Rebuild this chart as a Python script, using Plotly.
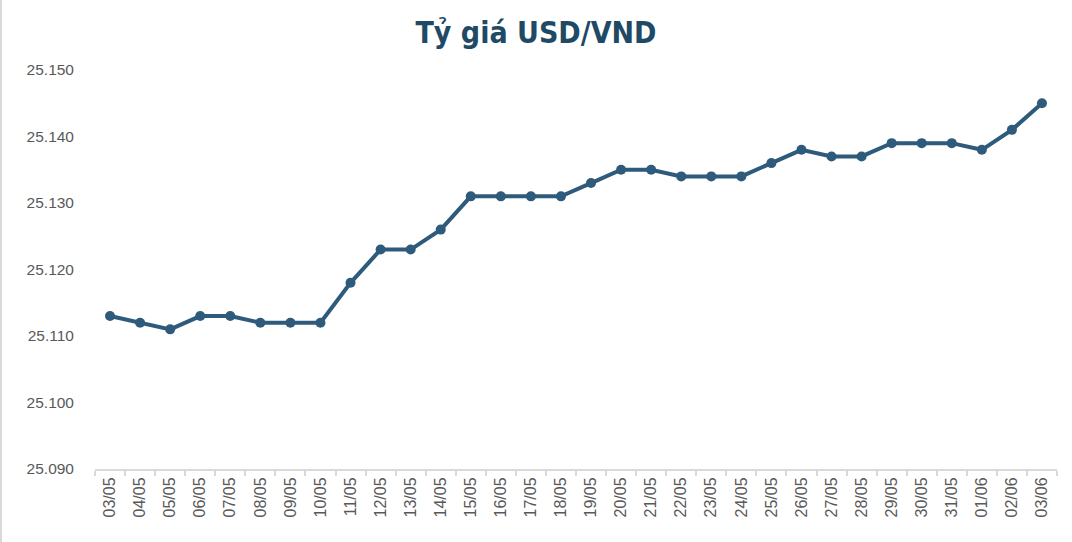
import plotly.graph_objects as go

# Ngày (dd/mm)
dates = [
    "03/05", "04/05", "05/05", "06/05", "07/05", "08/05", "09/05", "10/05",
    "11/05", "12/05", "13/05", "14/05", "15/05", "16/05", "17/05", "18/05",
    "19/05", "20/05", "21/05", "22/05", "23/05", "24/05", "25/05", "26/05",
    "27/05", "28/05", "29/05", "30/05", "31/05", "01/06", "02/06", "03/06",
]

# Tỷ giá trung tâm USD/VND
rates = [
    25113, 25112, 25111, 25113, 25113, 25112, 25112, 25112,
    25118, 25123, 25123, 25126, 25131, 25131, 25131, 25131,
    25133, 25135, 25135, 25134, 25134, 25134, 25136, 25138,
    25137, 25137, 25139, 25139, 25139, 25138, 25141, 25145,
]

y_ticks = [25090, 25100, 25110, 25120, 25130, 25140, 25150]

LINE_COLOR = "#2E5B7B"

fig = go.Figure()

fig.add_trace(go.Scatter(
    x=dates, y=rates, mode="lines+markers",
    line=dict(color=LINE_COLOR, width=4),
    marker=dict(color=LINE_COLOR, size=10),
    showlegend=False,
))

L, R, T, B = 95, 15, 70, 73
plot_w = 1072 - L - R
plot_h = 542 - T - B

fig.update_layout(
    width=1072, height=542,
    margin=dict(l=L, r=R, t=T, b=B, autoexpand=False),
    paper_bgcolor="white", plot_bgcolor="white",
    separators=",.",
    title=dict(
        text="<b>Tỷ giá USD/VND</b>",
        x=0.5, xanchor="center", y=0.94, yanchor="middle",
        font=dict(family="Liberation Sans Narrow, DejaVu Sans Condensed, Arial Narrow",
                  size=30, color="#1F4A66"),
    ),
    font=dict(family="Liberation Sans, Arial", color="#595959"),
)

fig.update_xaxes(
    type="category", tickangle=-90, automargin=False,
    range=[-0.5, len(dates) - 0.5],
    tickfont=dict(size=16, color="#595959"),
    showline=True, linecolor="#D9D9D9", linewidth=2,
    ticks="outside", tickson="boundaries", ticklen=5, tickcolor="#D9D9D9", tickwidth=2,
    showgrid=False, zeroline=False,
)

fig.update_yaxes(
    range=[25090, 25150], tickvals=y_ticks, tickformat=",.0f", automargin=False,
    tickfont=dict(size=15.5, color="#595959"),
    showline=False, showgrid=False, zeroline=False,
    ticks="", ticklabelstandoff=20,
)

# thin gray border on the far left of the picture
fig.add_shape(
    type="line", xref="paper", yref="paper",
    x0=-(L - 1) / plot_w, x1=-(L - 1) / plot_w,
    y0=-B / plot_h, y1=1 + T / plot_h,
    line=dict(color="#D9D9D9", width=2),
)

# remove the default page margin so the figure sits at the window's corner
fig.write_html(
    "out.html",
    config={"displayModeBar": False},
    post_script="document.body.style.margin='0';",
)
